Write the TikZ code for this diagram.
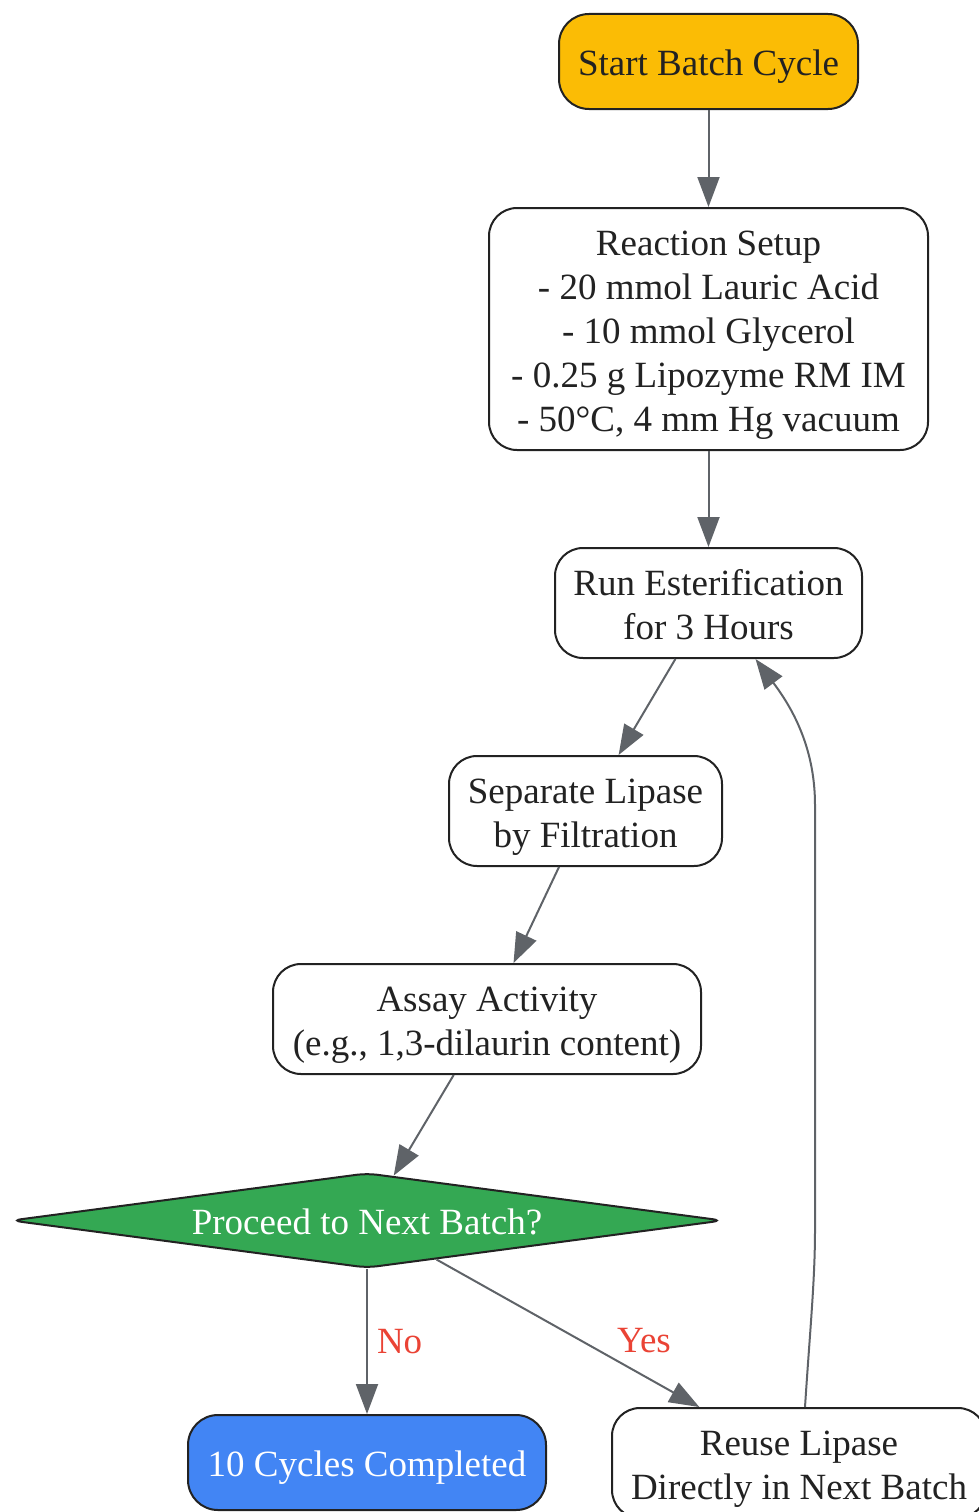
\documentclass[tikz,border=0pt]{standalone}
\usepackage{fontspec}
\setmainfont{Liberation Serif}
\usetikzlibrary{shapes.geometric,arrows.meta}

\definecolor{startyellow}{HTML}{FBBC05}
\definecolor{decisiongreen}{HTML}{34A853}
\definecolor{endblue}{HTML}{4285F4}
\definecolor{edgegray}{HTML}{5F6368}
\definecolor{labelred}{HTML}{EA4335}
\definecolor{inkgray}{HTML}{222222}
% strut for the first text line of a box
\newcommand{\topline}{\rule{0pt}{38pt}}

\begin{document}
\begin{tikzpicture}[x=1pt,y=-1pt,
    every node/.style={inner sep=0pt, align=center, text=inkgray,
        font=\fontsize{37}{44}\selectfont},
    linebox/.style={execute at begin node={\rule{0pt}{38pt}},
        execute at end node={\rule[-9.5pt]{0pt}{9.5pt}}},
    stepbox/.style={linebox, draw=inkgray, line width=2pt, rounded corners=28pt,
        fill=white, minimum height=110pt},
    termbox/.style={stepbox, minimum height=95pt, rounded corners=30pt},
    choice/.style={linebox, diamond, draw=inkgray, line width=2pt, rounded corners=10pt,
        fill=decisiongreen, text=white, aspect=7.47,
        minimum width=712pt, minimum height=95pt},
    flow/.style={draw=edgegray, line width=2pt,
        -{Triangle[length=30pt,width=22pt]}},
    answer/.style={text=labelred}]
    \useasboundingbox (0,0) rectangle (979,1512);

    % process steps
    \node[termbox, fill=startyellow, minimum width=299pt] (start) at (708.5,61.5) {Start Batch Cycle};
    \node[stepbox, minimum width=439pt, minimum height=242pt] (setup) at (708.5,329)
        {\topline Reaction Setup\\- 20 mmol Lauric Acid\\- 10 mmol Glycerol\\- 0.25 g Lipozyme RM IM\\- 50°C, 4 mm Hg vacuum};
    \node[stepbox, minimum width=307pt] (run) at (708.5,603) {\topline Run Esterification\\for 3 Hours};
    \node[stepbox, minimum width=273pt] (separate) at (585.5,811) {\topline Separate Lipase\\by Filtration};
    \node[stepbox, minimum width=428pt] (assay) at (487,1019) {\topline Assay Activity\\(e.g., 1,3-dilaurin content)};
    \node[choice] (next) at (367,1220.5) {Proceed to Next Batch?};
    \node[termbox, fill=endblue, text=white, minimum width=358pt] (done) at (367,1462.5) {10 Cycles Completed};
    \node[stepbox, minimum width=374pt] (reuse) at (799,1463) {\topline Reuse Lipase\\Directly in Next Batch};

    % connectors
    \draw[flow] (start) -- (setup);
    \draw[flow] (setup) -- (run);
    \draw[flow] (run) -- (separate);
    \draw[flow] (separate) -- (assay);
    \draw[flow] (assay) -- (next);
    \draw[flow] (next) -- node[answer, midway, right=9pt] {No} (done);
    \draw[flow] (next) -- node[answer, midway, xshift=76pt, yshift=-7pt] {Yes} (reuse);
    \draw[flow] ([xshift=6pt]reuse.north) .. controls (810,1330) and (815,1280) .. (815,1230)
        -- (815,805) .. controls (815,745) and (790,705) .. ([xshift=47pt]run.south);
\end{tikzpicture}
\end{document}
